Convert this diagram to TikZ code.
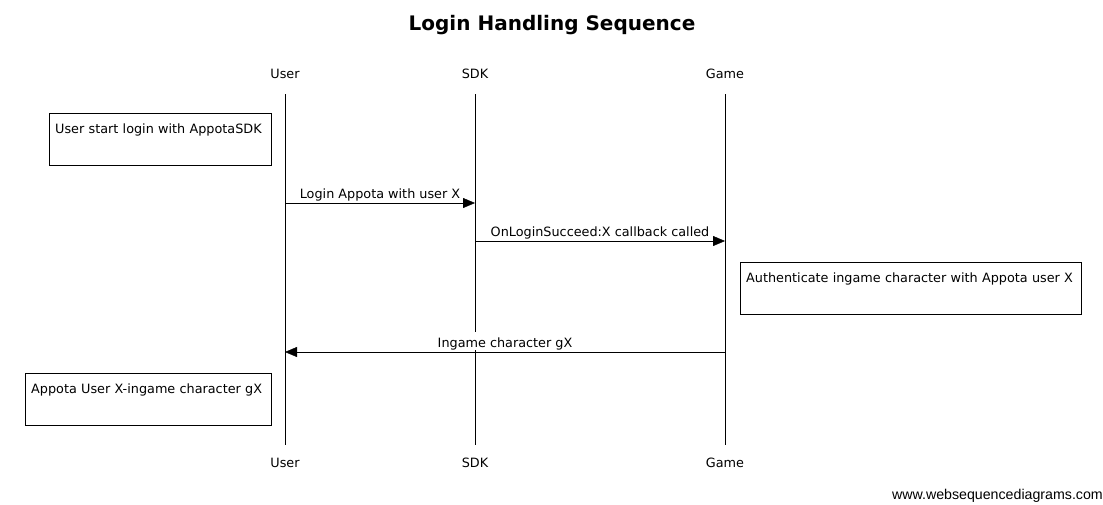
\documentclass[tikz,border=0pt]{standalone}
\usepackage{fontspec}
\setmainfont{DejaVu Sans}
\newfontfamily\wsdfont{Liberation Sans}
\usetikzlibrary{arrows.meta}
\tikzset{
  actor/.style={anchor=base},
  msg/.style={midway,anchor=base,yshift=4.5pt,inner sep=1pt},
  notebox/.style={draw,anchor=north west,align=left,inner xsep=6pt,inner ysep=5pt,
    text height=15.5pt,text depth=26.5pt}
}
\begin{document}
\begin{tikzpicture}[x=1pt,y=-1pt,>={Triangle[length=12pt,width=10pt]},
  font=\fontsize{12.8}{15}\selectfont]
\useasboundingbox (0,0) rectangle (1103,504);

\node[anchor=base,font=\fontsize{20}{22}\selectfont\bfseries] (title) at (552,30.5) {Login Handling Sequence};

% participants
\node[actor] (usertop) at (285,78.5) {User};
\node[actor] (sdktop) at (475,78.5) {SDK};
\node[actor] (gametop) at (725,78.5) {Game};
\node[actor] (userbot) at (285,467.5) {User};
\node[actor] (sdkbot) at (475,467.5) {SDK};
\node[actor] (gamebot) at (725,467.5) {Game};

\coordinate (u0) at (285,94);\coordinate (u9) at (285,445);
\coordinate (s0) at (475,94);\coordinate (s9) at (475,445);
\coordinate (g0) at (725,94);\coordinate (g9) at (725,445);
\draw (u0)--(u9);
\draw (s0)--(s9);
\draw (g0)--(g9);

% notes
\node[notebox,text width=210pt] (note1) at (49,113) {User start login with AppotaSDK};
\node[notebox,text width=329pt] (note2) at (740,262) {Authenticate ingame character with Appota user X};
\node[notebox,text width=234pt] (note3) at (25,373) {Appota User X-ingame character gX};

% messages
\coordinate (u1) at (285,203);\coordinate (s1) at (475,203);
\coordinate (s2) at (475,241);\coordinate (g2) at (725,241);
\coordinate (g3) at (725,352);\coordinate (u3) at (285,352);
\draw[->] (u1)--node[msg]{Login Appota with user X}(s1);
\draw[->] (s2)--node[msg]{OnLoginSucceed:X callback called}(g2);
\draw[->] (g3)--node[msg,fill=white,inner xsep=1pt,inner ysep=0.3pt,text height=15pt]{Ingame character gX}(u3);

\node[anchor=base east,inner sep=0pt,font=\wsdfont\fontsize{14.2}{16}\selectfont] (wsd) at (1103,499.5) {www.websequencediagrams.com};
\end{tikzpicture}
\end{document}
